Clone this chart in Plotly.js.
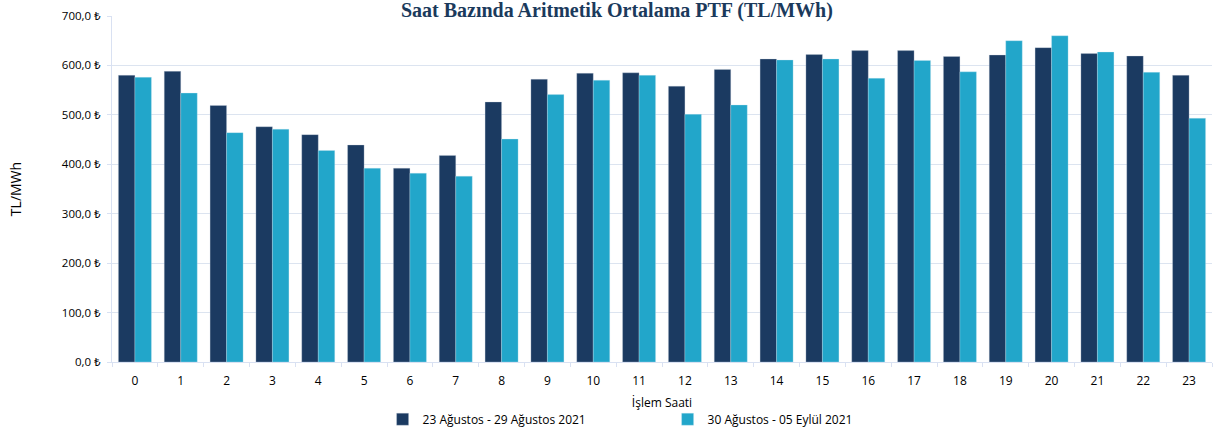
<!DOCTYPE html>
<html>
<head>
<meta charset="utf-8">
<script src="https://cdn.plot.ly/plotly-3.0.1.min.js"></script>
<style>html,body{margin:0;padding:0;background:#fff;}#chart{width:1214px;height:435px;}</style>
</head>
<body>
<div id="chart"></div>
<script>
const hours = ["0","1","2","3","4","5","6","7","8","9","10","11","12","13","14","15","16","17","18","19","20","21","22","23"];
const week1Name = "23 Ağustos - 29 Ağustos 2021";
const week2Name = "30 Ağustos - 05 Eylül 2021";
const week1 = [580, 588, 519, 476, 460, 439, 392, 418, 526, 572, 584, 585, 558, 592, 613, 622, 630, 630, 618, 621, 636, 624, 619, 580];
const week2 = [576, 544, 464, 471, 428, 392, 382, 376, 451, 541, 570, 580, 501, 520, 611, 613, 574, 610, 587, 650, 660, 627, 586, 493];
const yTickVals = [0, 100, 200, 300, 400, 500, 600, 700];
const yTickText = ["0,0 ₺", "100,0 ₺", "200,0 ₺", "300,0 ₺", "400,0 ₺", "500,0 ₺", "600,0 ₺", "700,0 ₺"];

const font = "Open Sans, Noto Sans, DejaVu Sans, sans-serif";
const traces = [
  {type: "bar", name: week1Name, x: hours, y: week1,
   marker: {color: "#1B3A61", line: {color: "rgba(200,210,225,0.6)", width: 0.5}}},
  {type: "bar", name: week2Name, x: hours, y: week2,
   marker: {color: "#22A6CA", line: {color: "rgba(200,230,240,0.6)", width: 0.5}}}
];
const layout = {
  width: 1214, height: 435,
  margin: {l: 112, r: 2, t: 16, b: 72},
  paper_bgcolor: "#fff", plot_bgcolor: "#fff",
  barmode: "group", bargap: 0.28, bargroupgap: 0,
  title: {text: "<b>Saat Bazında Aritmetik Ortalama PTF (TL/MWh)</b>",
          font: {family: "Liberation Serif, DejaVu Serif, serif", size: 20, color: "#1B3A5C"},
          x: 0.459, xanchor: "center", xref: "paper", yref: "container", y: 1, yanchor: "top",
          pad: {t: 3}},
  xaxis: {type: "category", tickson: "boundaries", ticks: "outside", ticklen: 4, tickcolor: "#D9E1F2",
          ticklabelstandoff: 8,
          showline: true, linecolor: "#D9E1F2", linewidth: 1, automargin: false,
          tickfont: {family: font, size: 12, color: "#000"},
          title: {text: "İşlem Saati", font: {family: font, size: 12, color: "#000"}, standoff: 10}},
  yaxis: {range: [0, 700], tickvals: yTickVals, ticktext: yTickText,
          ticks: "outside", ticklen: 4, tickcolor: "#D9E1F2", ticklabelstandoff: 4,
          showgrid: true, gridcolor: "#DCE4F0", gridwidth: 1, automargin: false,
          showline: true, linecolor: "#D9E1F2", linewidth: 1, zeroline: false,
          tickfont: {family: font, size: 11.5, color: "#000"},
          title: {text: "TL/MWh", font: {family: font, size: 14, color: "#000"}, standoff: 36}},
  legend: {orientation: "h", x: 0.246, xanchor: "left", y: -0.162, yanchor: "middle",
           entrywidth: 240, entrywidthmode: "pixels", itemwidth: 14,
           font: {family: font, size: 12, color: "#000"}},
  showlegend: true
};
Plotly.newPlot("chart", traces, layout, {displayModeBar: false, staticPlot: true});
</script>
</body>
</html>
